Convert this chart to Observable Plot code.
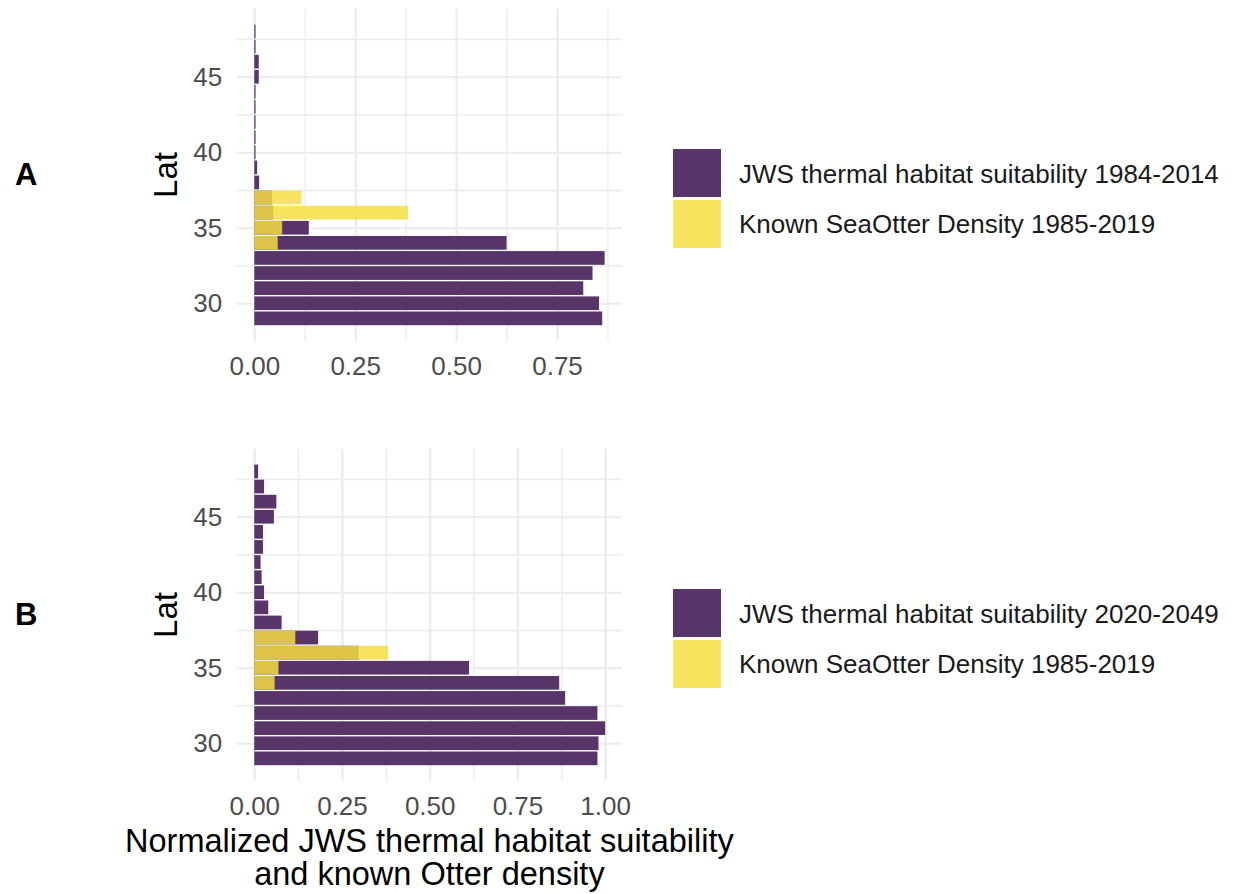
<!DOCTYPE html>
<html>
<head>
<meta charset="utf-8">
<script src="https://cdn.jsdelivr.net/npm/d3@7"></script>
<script src="https://cdn.jsdelivr.net/npm/@observablehq/plot@0.6"></script>
<style>
  html, body { margin: 0; padding: 0; background: #ffffff; }
  #wrap { position: relative; width: 1235px; height: 894px; background: #ffffff; overflow: hidden;
          font-family: "Liberation Sans", Arial, Helvetica, sans-serif; }
  #wrap > svg, #wrap > div { position: absolute; }
</style>
</head>
<body>
<div id="wrap"></div>
<script>
// ---------------- data ----------------
const lat = [29, 30, 31, 32, 33, 34, 35, 36, 37, 38, 39, 40, 41, 42, 43, 44, 45, 46, 47, 48];
// Panel A: JWS thermal habitat suitability 1984-2014 (normalized)
const jwsHistoric = [0.862, 0.854, 0.815, 0.838, 0.868, 0.625, 0.135, 0.047, 0.044, 0.012,
                     0.007, 0.003, 0.003, 0.003, 0.003, 0.003, 0.011, 0.011, 0.003, 0.003];
// Panel B: JWS thermal habitat suitability 2020-2049 (normalized)
const jwsFuture = [0.978, 0.981, 1.000, 0.978, 0.886, 0.869, 0.612, 0.298, 0.182, 0.078,
                   0.040, 0.028, 0.021, 0.018, 0.025, 0.025, 0.056, 0.063, 0.028, 0.011];
// Known sea otter density 1985-2019 (normalized), same in both panels
const otterLat = [34, 35, 36, 37];
const otterDensity = [0.058, 0.069, 0.381, 0.117];

const xTicksA = [0, 0.25, 0.5, 0.75];
const xMinorA = [0.125, 0.375, 0.625, 0.875];
const xTicksB = [0, 0.25, 0.5, 0.75, 1];
const xMinorB = [0.125, 0.375, 0.625, 0.875];
const yTicks = [30, 35, 40, 45];
const yMinor = [32.5, 37.5, 42.5, 47.5];

const legendA = ["JWS thermal habitat suitability 1984-2014", "Known SeaOtter Density 1985-2019"];
const legendB = ["JWS thermal habitat suitability 2020-2049", "Known SeaOtter Density 1985-2019"];
const panelLabels = ["A", "B"];
const yTitle = "Lat";
const xTitle = ["Normalized JWS thermal habitat suitability", "and known Otter density"];

const purple = "#583469";
const yellow = "#f4de42";
const yellowOpacity = 0.85;
const gridColor = "#ebebeb";
const FONT = '"Liberation Sans", Arial, Helvetica, sans-serif';

// ---------------- panels ----------------
const wrap = document.getElementById("wrap");

function panel({values, xDomain, xTicks, xMinor, top, height}) {
  const jws = lat.map((l, i) => ({lat: l, v: values[i]}));
  const otter = otterLat.map((l, i) => ({lat: l, v: otterDensity[i]}));
  const W = 640;
  const svg = Plot.plot({
    width: W,
    height: height,
    marginLeft: 236.7,
    marginRight: W - 622,
    marginTop: 8.8,
    marginBottom: height - 341,
    x: {domain: xDomain},
    y: {domain: [27.5, 49.5]},
    style: {fontSize: "26px", fontFamily: FONT, color: "#4d4d4d", background: "transparent", overflow: "visible"},
    marks: [
      Plot.gridX(xMinor, {stroke: gridColor, strokeOpacity: 1, strokeWidth: 1.3}),
      Plot.gridX(xTicks, {stroke: gridColor, strokeOpacity: 1, strokeWidth: 2.2}),
      Plot.gridY(yMinor, {stroke: gridColor, strokeOpacity: 1, strokeWidth: 1.3}),
      Plot.gridY(yTicks, {stroke: gridColor, strokeOpacity: 1, strokeWidth: 2.2}),
      Plot.rectX(jws, {x1: () => 0, x2: "v", y1: d => d.lat - 0.5, y2: d => d.lat + 0.5,
                       fill: purple, insetTop: 0.7, insetBottom: 0.7}),
      Plot.rectX(otter, {x1: () => 0, x2: "v", y1: d => d.lat - 0.5, y2: d => d.lat + 0.5,
                         fill: yellow, fillOpacity: yellowOpacity, insetTop: 0.7, insetBottom: 0.7}),
      Plot.axisX(xTicks, {tickSize: 0, tickPadding: 15, tickFormat: d3.format(".2f"), label: null}),
      Plot.axisY(yTicks, {tickSize: 0, tickPadding: 15, label: null})
    ]
  });
  svg.style.left = "0px";
  svg.style.top = top + "px";
  // y axis title
  d3.select(svg).append("text")
    .attr("transform", "translate(177,175) rotate(-90)")
    .attr("text-anchor", "middle")
    .attr("font-size", 33)
    .attr("fill", "#000")
    .text(yTitle);
  wrap.appendChild(svg);
}

panel({values: jwsHistoric, xDomain: [-0.0436, 0.911], xTicks: xTicksA, xMinor: xMinorA, top: 0, height: 440});
panel({values: jwsFuture, xDomain: [-0.05, 1.048], xTicks: xTicksB, xMinor: xMinorB, top: 440, height: 454});

// ---------------- overlay: panel letters, legends, x title ----------------
const ov = d3.select(wrap).append("svg")
  .attr("width", 1235).attr("height", 894)
  .style("left", "0px").style("top", "0px")
  .style("font-family", FONT);

[[panelLabels[0], 0], [panelLabels[1], 440]].forEach(([t, off]) => {
  ov.append("text").attr("x", 15).attr("y", 185 + off)
    .attr("font-size", 31).attr("font-weight", "bold").attr("fill", "#000").text(t);
});

[[legendA, 0], [legendB, 440]].forEach(([labels, off]) => {
  [purple, yellow].forEach((c, i) => {
    ov.append("rect").attr("x", 673).attr("y", 149 + off + i * 51).attr("width", 48).attr("height", 48)
      .attr("fill", c).attr("fill-opacity", i === 1 ? yellowOpacity : 1);
    ov.append("text").attr("x", 739).attr("y", 183 + off + i * 50)
      .attr("font-size", 26).attr("fill", "#1a1a1a").text(labels[i]);
  });
});

const title = ov.append("text").attr("x", 429.4).attr("y", 852)
  .attr("text-anchor", "middle").attr("font-size", 32.5).attr("fill", "#000");
xTitle.forEach((t, i) => {
  title.append("tspan").attr("x", 429.4).attr("dy", i === 0 ? 0 : 33).text(t);
});
</script>
</body>
</html>
